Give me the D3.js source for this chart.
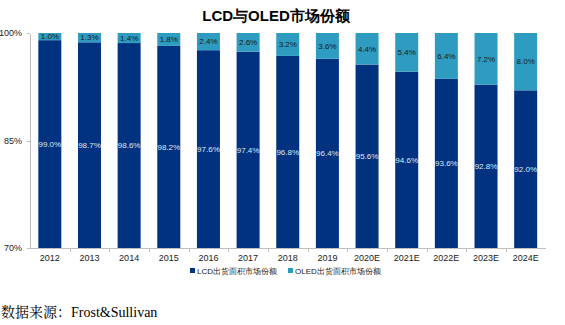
<!DOCTYPE html>
<meta charset="utf-8">
<style>
body { margin: 0; background: #fff; font-family: "Liberation Sans", Arial, sans-serif; }
.axis path, .axis line { fill: none; stroke: #bfbfbf; shape-rendering: crispEdges; }
.axis text { font-size: 9px; fill: #222; }
</style>
<body>
<div id="svg"></div>
<script src="https://d3js.org/d3.v7.min.js"></script>
<script>
// data
var years = ["2012","2013","2014","2015","2016","2017","2018","2019","2020E","2021E","2022E","2023E","2024E"];
var lcd  = [99.0, 98.7, 98.6, 98.2, 97.6, 97.4, 96.8, 96.4, 95.6, 94.6, 93.6, 92.8, 92.0];
var oled = [1.0, 1.3, 1.4, 1.8, 2.4, 2.6, 3.2, 3.6, 4.4, 5.4, 6.4, 7.2, 8.0];
var yTicks = [70, 85, 100];

var colors = { lcd: "#00327f", oled: "#2e9cc1" };

var W = 565, H = 325;
var svg = d3.select("#svg").append("svg")
    .attr("width", W).attr("height", H);

var x = d3.scaleBand().domain(years).range([30, 545.5]).paddingInner(0.42).paddingOuter(0.21);
var y = d3.scaleLinear().domain([70, 100]).range([248, 33]);

// title
svg.append("text")
    .attr("x", 276).attr("y", 21)
    .attr("text-anchor", "middle")
    .style("font-size", "15px").style("font-weight", "bold")
    .text("LCD与OLED市场份额");

var data = years.map(function(d, i) { return { year: d, lcd: lcd[i], oled: oled[i] }; });

// LCD bars
svg.selectAll(".lcd").data(data).enter().append("rect")
    .attr("class", "lcd")
    .attr("x", function(d) { return x(d.year); })
    .attr("width", x.bandwidth())
    .attr("y", function(d) { return y(d.lcd); })
    .attr("height", function(d) { return y(70) - y(d.lcd); })
    .style("fill", colors.lcd);

// OLED bars stacked on top
svg.selectAll(".oled").data(data).enter().append("rect")
    .attr("class", "oled")
    .attr("x", function(d) { return x(d.year); })
    .attr("width", x.bandwidth())
    .attr("y", function(d) { return y(d.lcd + d.oled); })
    .attr("height", function(d) { return y(d.lcd) - y(d.lcd + d.oled); })
    .style("fill", colors.oled);

// labels
svg.selectAll(".lcdlab").data(data).enter().append("text")
    .attr("x", function(d) { return x(d.year) + x.bandwidth() / 2; })
    .attr("y", function(d) { return (y(d.lcd) + y(70)) / 2; })
    .attr("dy", ".35em")
    .attr("text-anchor", "middle")
    .style("font-size", "8px").style("fill", "#dfe6f2")
    .text(function(d) { return d.lcd.toFixed(1) + "%"; });

svg.selectAll(".oledlab").data(data).enter().append("text")
    .attr("x", function(d) { return x(d.year) + x.bandwidth() / 2; })
    .attr("y", function(d) { return (y(d.lcd) + y(d.lcd + d.oled)) / 2; })
    .attr("dy", ".35em")
    .attr("text-anchor", "middle")
    .style("font-size", "8px").style("fill", "#1a1a1a")
    .text(function(d) { return d.oled.toFixed(1) + "%"; });

// y axis
svg.append("g")
    .attr("class", "axis")
    .attr("transform", "translate(30,0)")
    .call(d3.axisLeft(y).tickValues(yTicks).tickSize(3).tickSizeOuter(0)
      .tickFormat(function(d) { return d + "%"; }))
    .selectAll("text").attr("dx", "-2");

// x axis with ticks between categories
var xAxis = svg.append("g")
    .attr("class", "axis")
    .attr("transform", "translate(0,248)")
    .call(d3.axisBottom(x).tickSize(0).tickSizeOuter(0).tickPadding(7));
var step = x.step();
xAxis.selectAll(".sep").data(years.slice(1)).enter().append("line")
    .attr("x1", function(d) { return Math.round(x(d) - (step - x.bandwidth()) / 2) + 0.5; })
    .attr("x2", function(d) { return Math.round(x(d) - (step - x.bandwidth()) / 2) + 0.5; })
    .attr("y1", 0).attr("y2", 4);

// legend
var legend = [
  { name: "LCD出货面积市场份额", color: colors.lcd, x: 190 },
  { name: "OLED出货面积市场份额", color: colors.oled, x: 288 }
];
var lg = svg.selectAll(".legend").data(legend).enter().append("g")
    .attr("transform", function(d) { return "translate(" + d.x + ",271)"; });
lg.append("rect").attr("x", 0).attr("y", -3).attr("width", 5).attr("height", 5)
    .style("fill", function(d) { return d.color; });
lg.append("text").attr("x", 7).attr("dy", ".35em")
    .style("font-size", "8px").style("fill", "#222")
    .text(function(d) { return d.name; });

// source
svg.append("text")
    .attr("x", 1).attr("y", 317)
    .style("font-family", "'Liberation Serif', 'Noto Serif CJK SC', serif")
    .style("font-size", "14px")
    .text("数据来源：Frost&Sullivan");
</script>
</body>
